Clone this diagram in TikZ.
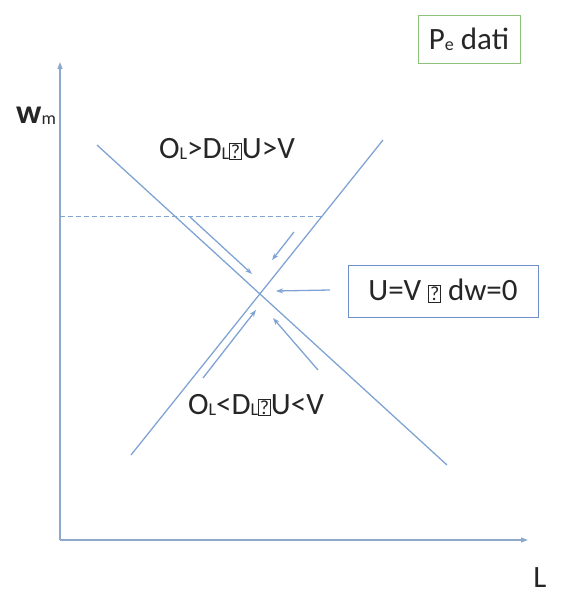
\documentclass[tikz,border=0pt]{standalone}
\usepackage{fontspec}
\setmainfont{Carlito}
\usetikzlibrary{arrows.meta}
\definecolor{ln}{HTML}{7FA3D3}
\definecolor{ax}{HTML}{8EA9CC}
\definecolor{bx}{HTML}{6F8FCB}
\definecolor{gb}{HTML}{8CC27A}
\newcommand{\qbox}{{\setlength{\fboxsep}{1pt}\setlength{\fboxrule}{0.7pt}\fbox{\fontsize{20}{20}\selectfont ?}}}
\newcommand{\lsub}[1]{\raisebox{-0.03em}{\fontsize{18}{18}\selectfont #1}}
\tikzset{
  curve/.style={draw=ln, line width=1.3pt},
  axis/.style={draw=ax, line width=1.3pt, -{Triangle[length=7pt,width=5pt]}},
  flow/.style={draw=ln, line width=1.3pt, -{Stealth[length=7pt,width=5pt]}},
  lbl/.style={font=\fontsize{31}{34}\selectfont, inner sep=0pt, text=black!85},
}
\begin{document}
\begin{tikzpicture}[x=1pt,y=-1pt]
\useasboundingbox (0,0) rectangle (563,595);
% axes
\coordinate (O) at (60,540);
\coordinate (ytop) at (60,62);
\coordinate (xend) at (528,540);
\draw[axis] (O) -- (ytop);
\draw[axis] (O) -- (xend);
\node[lbl, anchor=base west] (wm) at (16,123) {\fontsize{34}{34}\selectfont\textbf{w}\lsub{m}};
\node[lbl, anchor=base] (L) at (540,587) {L};
% curves
\coordinate (d1) at (97,145);
\coordinate (d2) at (447,465);
\coordinate (s1) at (131,455);
\coordinate (s2) at (383,140);
\draw[curve] (d1) -- (d2);
\draw[curve] (s1) -- (s2);
% dashed
\coordinate (h1) at (60,216);
\coordinate (h2) at (322,216);
\draw[draw=ln, line width=1pt, dash pattern=on 5pt off 3pt] (h1) -- (h2);
% flow arrows
\coordinate (a1s) at (190,217); \coordinate (a1e) at (252,274);
\coordinate (a2s) at (294,232); \coordinate (a2e) at (272,260);
\coordinate (a3s) at (330,290); \coordinate (a3e) at (276,291);
\coordinate (a4s) at (203,378); \coordinate (a4e) at (256,310);
\coordinate (a5s) at (318,370); \coordinate (a5e) at (273,318);
\draw[flow] (a1s) -- (a1e);
\draw[flow] (a2s) -- (a2e);
\draw[flow] (a3s) -- (a3e);
\draw[flow] (a4s) -- (a4e);
\draw[flow] (a5s) -- (a5e);
% labels
\node[lbl] (t1) at (227,149) {O\lsub{L}>D\lsub{L}\qbox U>V};
\node[lbl] (t2) at (256,405) {O\lsub{L}<D\lsub{L}\qbox U<V};
\node[draw=bx, line width=1pt, minimum width=190pt, minimum height=52pt, font=\fontsize{31}{34}\selectfont, text=black!85] (eq) at (443,291) {U=V \qbox{} dw=0};
\node[draw=gb, line width=1pt, minimum width=102pt, minimum height=48pt, font=\fontsize{31}{34}\selectfont, text=black!85] (pe) at (469,39) {P\lsub{e} dati};
\end{tikzpicture}
\end{document}
